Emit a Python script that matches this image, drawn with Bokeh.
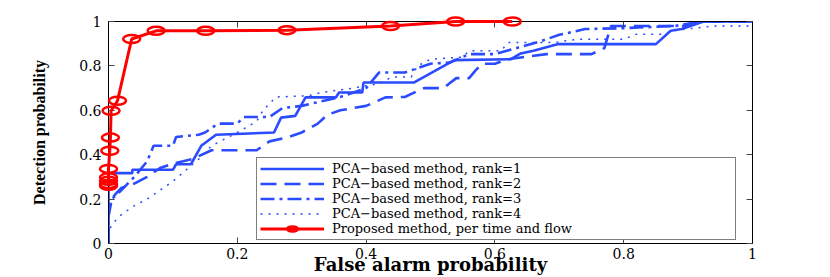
from bokeh.plotting import figure
from bokeh.models import Range1d, LinearAxis, FixedTicker, Legend, LegendItem
from bokeh.embed import file_html
from bokeh.resources import INLINE

# ---------------- data ----------------
tick_values = [0, 0.2, 0.4, 0.6, 0.8, 1]
tick_labels = ["0", "0.2", "0.4", "0.6", "0.8", "1"]

legend_labels = [
    "PCA\u2212based method, rank=1",
    "PCA\u2212based method, rank=2",
    "PCA\u2212based method, rank=3",
    "PCA\u2212based method, rank=4",
    "Proposed method, per time and flow",
]

rank1_x = [0, 0, 0.037, 0.037, 0.100, 0.105, 0.128, 0.144, 0.167, 0.257, 0.268, 0.290, 0.306, 0.353, 0.358, 0.394, 0.396, 0.474, 0.537, 0.625, 0.640, 0.660, 0.697, 0.850, 0.873, 0.890, 0.924, 1.0]
rank1_y = [0, 0.317, 0.317, 0.332, 0.332, 0.357, 0.357, 0.440, 0.490, 0.500, 0.567, 0.575, 0.658, 0.658, 0.680, 0.680, 0.725, 0.725, 0.826, 0.830, 0.856, 0.868, 0.898, 0.898, 0.958, 0.966, 1.0, 1.0]

rank2_x = [0, 0, 0.005, 0.01, 0.02, 0.04, 0.06, 0.08, 0.10, 0.13, 0.16, 0.23, 0.25, 0.28, 0.30, 0.325, 0.34, 0.36, 0.40, 0.43, 0.46, 0.49, 0.52, 0.54, 0.56, 0.57, 0.58, 0.60, 0.62, 0.68, 0.75, 0.77, 0.78, 0.90, 0.92, 1.0]
rank2_y = [0, 0.15, 0.20, 0.22, 0.25, 0.27, 0.30, 0.34, 0.36, 0.38, 0.42, 0.42, 0.46, 0.48, 0.50, 0.54, 0.58, 0.60, 0.62, 0.658, 0.66, 0.70, 0.70, 0.745, 0.745, 0.78, 0.81, 0.81, 0.83, 0.853, 0.853, 0.88, 0.98, 0.98, 1.0, 1.0]

rank3_x = [0, 0, 0.005, 0.02, 0.04, 0.06, 0.07, 0.10, 0.105, 0.14, 0.15, 0.17, 0.20, 0.21, 0.25, 0.27, 0.30, 0.33, 0.36, 0.40, 0.42, 0.46, 0.50, 0.53, 0.56, 0.60, 0.67, 0.70, 0.74, 0.80, 0.88, 0.92, 1.0]
rank3_y = [0, 0.12, 0.20, 0.24, 0.30, 0.37, 0.44, 0.44, 0.48, 0.49, 0.50, 0.54, 0.54, 0.57, 0.57, 0.61, 0.62, 0.64, 0.66, 0.70, 0.77, 0.77, 0.81, 0.815, 0.853, 0.853, 0.91, 0.94, 0.966, 0.97, 0.98, 1.0, 1.0]

rank4_x = [0, 0, 0.01, 0.02, 0.04, 0.06, 0.08, 0.10, 0.12, 0.14, 0.16, 0.20, 0.23, 0.24, 0.26, 0.31, 0.33, 0.38, 0.42, 0.44, 0.47, 0.48, 0.50, 0.55, 0.56, 0.61, 0.62, 0.69, 0.73, 0.80, 0.82, 0.86, 0.88, 0.94, 1.0]
rank4_y = [0, 0.06, 0.10, 0.13, 0.17, 0.20, 0.24, 0.28, 0.33, 0.38, 0.44, 0.50, 0.55, 0.60, 0.66, 0.665, 0.68, 0.70, 0.72, 0.75, 0.75, 0.80, 0.83, 0.84, 0.868, 0.868, 0.905, 0.905, 0.92, 0.92, 0.943, 0.943, 0.96, 0.98, 0.98]

proposed_x = [0.0, 0.0, 0.0, 0.0, 0.0, 0.002, 0.003, 0.004, 0.014, 0.036, 0.074, 0.151, 0.277, 0.438, 0.539, 0.627]
proposed_y = [0.26, 0.268, 0.283, 0.298, 0.336, 0.418, 0.477, 0.598, 0.643, 0.921, 0.958, 0.958, 0.961, 0.980, 1.0, 1.0]

# ---------------- figure ----------------
BLUE = "#2a4bff"
RED = "#ff0000"

p = figure(width=830, height=277, output_backend="svg", toolbar_location=None,
           x_range=Range1d(0, 1), y_range=Range1d(0, 1),
           min_border_left=108, min_border_right=78, min_border_top=21, min_border_bottom=34)
p.background_fill_color = "white"
p.border_fill_color = "white"
p.outline_line_color = "black"
p.outline_line_width = 1
p.xgrid.visible = False
p.ygrid.visible = False

bottom_ax = p.below[0]
left_ax = p.left[0]

overrides = {v: t for v, t in zip(tick_values, tick_labels)}
blank = {v: "" for v in tick_values}

def style_axis(ax, show_labels):
    ax.ticker = FixedTicker(ticks=tick_values)
    ax.axis_line_color = "black"
    ax.major_tick_line_color = "#444444"
    ax.major_tick_in = 6
    ax.major_tick_out = 0
    ax.minor_tick_line_color = None
    ax.major_label_text_font = "DejaVu Serif"
    ax.major_label_text_font_size = "14px"
    ax.major_label_text_color = "black"
    if show_labels:
        ax.major_label_overrides = overrides
    else:
        ax.major_label_overrides = blank
        ax.major_label_standoff = 0

style_axis(bottom_ax, True)
style_axis(left_ax, True)
bottom_ax.major_label_standoff = 4
left_ax.major_label_standoff = 7

top_ax = LinearAxis()
right_ax = LinearAxis()
style_axis(top_ax, False)
style_axis(right_ax, False)
p.add_layout(top_ax, "above")
p.add_layout(right_ax, "right")

left_ax.axis_label = "Detection probability"
left_ax.axis_label_text_font = "Liberation Serif"
left_ax.axis_label_text_font_style = "bold"
left_ax.axis_label_text_font_size = "16px"
left_ax.axis_label_text_color = "black"
left_ax.axis_label_standoff = 28

bottom_ax.axis_label = "False alarm probability"
bottom_ax.axis_label_text_font = "DejaVu Serif"
bottom_ax.axis_label_text_font_style = "bold"
bottom_ax.axis_label_text_font_size = "18px"
bottom_ax.axis_label_text_color = "black"
bottom_ax.axis_label_standoff = -8

r1 = p.line(rank1_x, rank1_y, line_color=BLUE, line_width=2.6)
r2 = p.line(rank2_x, rank2_y, line_color=BLUE, line_width=2.6, line_dash="16 8")
r3 = p.line(rank3_x, rank3_y, line_color=BLUE, line_width=2.6, line_dash="14 5 3 5")
r4 = p.line(rank4_x, rank4_y, line_color=BLUE, line_width=1.5, line_dash="2 6")
r5 = p.line(proposed_x, proposed_y, line_color=RED, line_width=3, level="annotation")
r6 = p.ellipse(x=proposed_x, y=proposed_y, width=17, height=8,
               width_units="screen", height_units="screen",
               fill_color=None, line_color=RED, line_width=2.5, level="annotation")

legend = Legend(items=[
    LegendItem(label=legend_labels[0], renderers=[r1]),
    LegendItem(label=legend_labels[1], renderers=[r2]),
    LegendItem(label=legend_labels[2], renderers=[r3]),
    LegendItem(label=legend_labels[3], renderers=[r4]),
    LegendItem(label=legend_labels[4], renderers=[r5, r6]),
])
legend.location = (148, 3)
legend.margin = 0
legend.padding = 3
legend.spacing = 0
legend.glyph_width = 64
legend.glyph_height = 13
legend.label_standoff = 8
legend.label_width = 400
legend.label_height = 13
legend.label_text_font = "DejaVu Serif"
legend.label_text_font_size = "13px"
legend.label_text_color = "black"
legend.border_line_color = "black"
legend.border_line_width = 1
legend.background_fill_color = "white"
legend.background_fill_alpha = 1
legend.level = "overlay"
p.add_layout(legend, "center")

open("out.html", "w").write(file_html(p, INLINE))
